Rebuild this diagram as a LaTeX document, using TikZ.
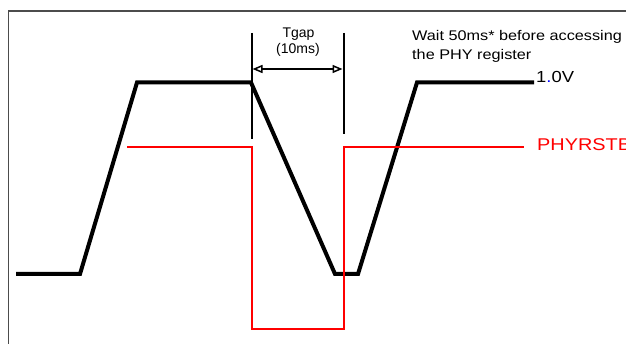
\documentclass[tikz,border=0pt]{standalone}
\usepackage{fontspec}
\setmainfont{Liberation Sans}
\usetikzlibrary{arrows.meta}
\begin{document}
\begin{tikzpicture}[x=1pt,y=-1pt,
  sig/.style={line width=4pt, line join=miter},
  rst/.style={red, line width=2pt},
  gapline/.style={line width=2pt},
  dim/.style={line width=1.5pt, {Triangle[open,length=10pt,width=8pt,line width=1.5pt]}-{Triangle[open,length=10pt,width=8pt,line width=1.5pt]}},
  frame/.style={draw=black!70, line width=1.5pt},
  lbl/.style={inner sep=0pt, font=\fontsize{14}{16}\selectfont}]
\useasboundingbox (0,0) rectangle (626,344);
\draw[frame] (8.5,344) -- (8.5,10.8) -- (626,10.8);
% timing lines
\coordinate (g1t) at (251.5,33);
\coordinate (g1b) at (251.5,139);
\coordinate (g2t) at (343.5,33);
\coordinate (g2b) at (343.5,134);
\draw[gapline] (g1t) -- (g1b);
\draw[gapline] (g2t) -- (g2b);
\coordinate (a1) at (252.5,69);
\coordinate (a2) at (342.5,69);
\draw[dim] (a1) -- (a2);
% waveforms
\draw[sig] (16,274) -- (80,274) -- (137,82.5) -- (251,82.5) -- (335,274) -- (358,274) -- (417,82.5) -- (534,82.5);
\draw[rst] (127,147) -- (251.5,147) -- (251.5,329) -- (343.5,329) -- (343.5,147) -- (524,147);
% labels
\node[lbl, anchor=base] (tgap) at (298.5,38) {Tgap};
\node[lbl, anchor=base] (tms) at (298,54) {(10ms)};
\node[lbl, anchor=base west] (wait1) at (412,40.5) {\scalebox{1.16}[1]{Wait 50ms* before accessing}};
\node[lbl, anchor=base west] (wait2) at (412,59.5) {\scalebox{1.16}[1]{the PHY register}};
\node[lbl, anchor=base west, font=\fontsize{16}{18}\selectfont] (v) at (536,83) {\scalebox{1.15}[1]{1{\color{blue}.}0V}};
\node[lbl, anchor=base west, font=\fontsize{17}{19}\selectfont, text=red] (rstb) at (537,151) {\scalebox{1.17}[1]{PHYRSTB}};
\end{tikzpicture}
\end{document}
